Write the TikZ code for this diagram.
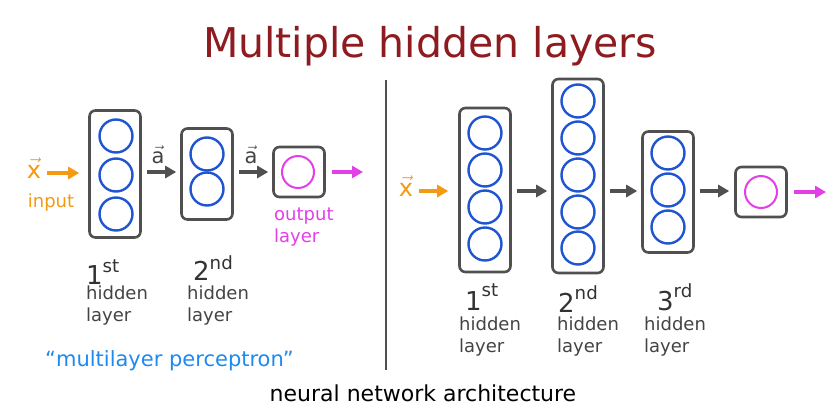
\documentclass[tikz,border=0pt]{standalone}
\usepackage{fontspec}
\setmainfont{DejaVu Sans}
\usetikzlibrary{arrows.meta,calc}
\definecolor{titlered}{HTML}{8E1B1F}
\definecolor{boxgray}{HTML}{505050}
\definecolor{nblue}{HTML}{1F55D0}
\definecolor{npink}{HTML}{E33FE6}
\definecolor{inorange}{HTML}{F39A12}
\definecolor{hblue}{HTML}{1E8AF0}
\definecolor{txtgray}{HTML}{444444}
\tikzset{
  layerbox/.style={draw=boxgray, line width=2.6pt, rounded corners=6pt, inner sep=0pt},
  neuron/.style={circle, draw=nblue, line width=2.4pt, minimum size=33pt, inner sep=0pt},
  outneuron/.style={circle, draw=npink, line width=2pt, minimum size=32pt, inner sep=0pt},
  garr/.style={draw=boxgray, line width=3.5pt, -{Triangle[length=11pt,width=12pt]}},
  oarr/.style={draw=inorange, line width=3.5pt, -{Triangle[length=11pt,width=12pt]}},
  parr/.style={draw=npink, line width=3.5pt, -{Triangle[length=11pt,width=12pt]}},
  lbl/.style={text=txtgray, font=\fontsize{18}{22}\selectfont, align=left, inner sep=0pt},
  ordl/.style={text=black!80, font=\fontsize{26}{26}\selectfont, inner sep=0pt},
  vecl/.style={font=\fontsize{24}{24}\selectfont, inner sep=0pt},
}
\begin{document}
\begin{tikzpicture}[x=1pt,y=-1pt]
\useasboundingbox (0,0) rectangle (839,405);
\fill[white] (0,0) rectangle (839,405);

% title
\node[text=titlered, font=\fontsize{41}{44}\selectfont, inner sep=0pt] (title) at (430,46) {Multiple hidden layers};

% divider
\coordinate (dtop) at (386,80);
\coordinate (dbot) at (386,370);
\draw[boxgray, line width=2.5pt] (dtop) -- (dbot);

% ---------- left network ----------
\node[vecl, text=inorange] (lx) at (34,168) {$\vec{\mathrm{x}}$};
\node[text=inorange, font=\fontsize{18}{20}\selectfont, inner sep=0pt] (linput) at (51,203) {input};

\node[layerbox, minimum width=51pt, minimum height=127pt] (L1) at (115,174) {};
\node[neuron] (L1a) at (116,136) {};
\node[neuron] (L1b) at (116,175) {};
\node[neuron] (L1c) at (116,214) {};

\node[layerbox, minimum width=51pt, minimum height=91pt] (L2) at (207,174) {};
\node[neuron] (L2a) at (207,154) {};
\node[neuron] (L2b) at (207,189) {};

\node[layerbox, minimum width=51pt, minimum height=50pt] (L3) at (299,172) {};
\node[outneuron] (L3a) at (298,172) {};

\coordinate (lout) at (363,172);
\draw[oarr] ($(lx.east)+(6,5)$) -- ($(L1.west)+(-9,-1)$);
\draw[garr] ($(L1.east)+(5,-2)$) -- ($(L2.west)+(-4,-2)$);
\draw[garr] ($(L2.east)+(5,-2)$) -- ($(L3.west)+(-4,0)$);
\draw[parr] ($(L3.east)+(6,0)$) -- (lout);

\node[vecl, text=txtgray, font=\fontsize{21}{21}\selectfont] (la1) at (158,155) {$\vec{\mathrm{a}}$};
\node[vecl, text=txtgray, font=\fontsize{21}{21}\selectfont] (la2) at (251,155) {$\vec{\mathrm{a}}$};

\node[text=npink, font=\fontsize{18}{22}\selectfont, align=left, inner sep=0pt, anchor=north west] (lol) at (274,208) {output\\layer};

\node[ordl, anchor=west] (lo1) at (86,272) {1\textsuperscript{st}};
\node[lbl, anchor=north west] (lh1) at (86,286) {hidden\\layer};
\node[ordl, anchor=west] (lo2) at (193,268) {2\textsuperscript{nd}};
\node[lbl, anchor=north west] (lh2) at (187,286) {hidden\\layer};

\node[text=hblue, font=\fontsize{21}{22}\selectfont, inner sep=0pt, anchor=west] (mlp) at (45,361) {“multilayer perceptron”};

% ---------- right network ----------
\node[vecl, text=inorange] (rx) at (406,186) {$\vec{\mathrm{x}}$};

\node[layerbox, minimum width=51pt, minimum height=164pt] (R1) at (485,190) {};
\node[neuron] (R1a) at (485,133) {};
\node[neuron] (R1b) at (485,170) {};
\node[neuron] (R1c) at (485,207) {};
\node[neuron] (R1d) at (485,244) {};

\node[layerbox, minimum width=51pt, minimum height=194pt] (R2) at (578,176) {};
\node[neuron] (R2a) at (578,101) {};
\node[neuron] (R2b) at (578,138) {};
\node[neuron] (R2c) at (578,175) {};
\node[neuron] (R2d) at (578,212) {};
\node[neuron] (R2e) at (578,248) {};

\node[layerbox, minimum width=51pt, minimum height=121pt] (R3) at (668,192) {};
\node[neuron] (R3a) at (668,153) {};
\node[neuron] (R3b) at (668,190) {};
\node[neuron] (R3c) at (668,227) {};

\node[layerbox, minimum width=51pt, minimum height=50pt] (R4) at (761,192) {};
\node[outneuron] (R4a) at (761,192) {};

\coordinate (rout) at (826,192);
\draw[oarr] ($(rx.east)+(6,5)$) -- ($(R1.west)+(-10,1)$);
\draw[garr] ($(R1.east)+(5,1)$) -- ($(R2.west |- R1.east)+(-4,1)$);
\draw[garr] ($(R2.east |- R1.east)+(5,1)$) -- ($(R3.west |- R1.east)+(-4,1)$);
\draw[garr] ($(R3.east)+(5,-1)$) -- ($(R4.west)+(-5,-1)$);
\draw[parr] ($(R4.east)+(6,0)$) -- (rout);

\node[ordl, anchor=west] (ro1) at (465,297) {1\textsuperscript{st}};
\node[lbl, anchor=north west] (rh1) at (459,317) {hidden\\layer};
\node[ordl, anchor=west] (ro2) at (558,299) {2\textsuperscript{nd}};
\node[lbl, anchor=north west] (rh2) at (557,317) {hidden\\layer};
\node[ordl, anchor=west] (ro3) at (657,297) {3\textsuperscript{rd}};
\node[lbl, anchor=north west] (rh3) at (644,317) {hidden\\layer};

% caption
\node[text=black, font=\fontsize{22}{24}\selectfont, inner sep=0pt] (cap) at (423,393) {neural network architecture};
\end{tikzpicture}
\end{document}
